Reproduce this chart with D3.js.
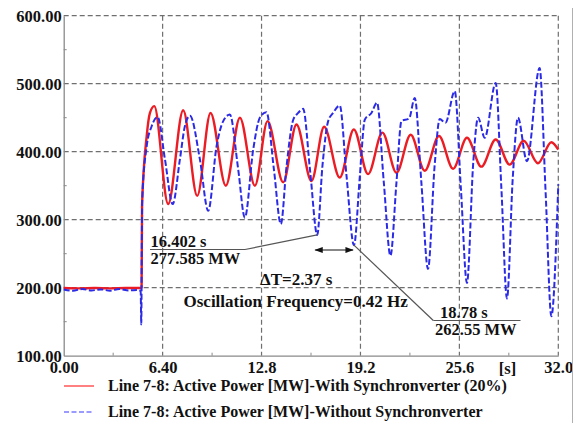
<!DOCTYPE html>
<html>
<head>
<meta charset="utf-8">
<script src="https://cdn.jsdelivr.net/npm/d3@7"></script>
<style>
  html, body { margin: 0; padding: 0; background: #fff; }
  svg { display: block; }
  text { font-family: "Liberation Serif", "Times New Roman", serif; font-weight: bold; fill: #111; }
</style>
</head>
<body>
<svg id="chart" width="577" height="423"></svg>
<script>
// Time axis (s) and active power (MW) of line 7-8
const xTicks = [0, 6.4, 12.8, 19.2, 25.6, 32];
const xTickLabels = ["0.00", "6.40", "12.8", "19.2", "25.6", "32.0"];
const yTicks = [100, 200, 300, 400, 500, 600];
const yTickLabels = ["100.00", "200.00", "300.00", "400.00", "500.00", "600.00"];

// With Synchronverter (20%)
const withTime = [0, 1, 2, 3, 4, 5.0, 5.04, 5.07, 5.37, 5.58, 5.86, 6.76, 7.73, 8.64, 9.5, 10.49,
  11.4, 12.37, 13.19, 14.2, 15.06, 16.03, 16.85, 17.86, 18.77, 19.69, 20.62, 21.53, 22.45,
  23.36, 24.28, 25.19, 26.09, 27.02, 27.95, 28.85, 29.76, 30.68, 31.55, 32];
const withPower = [199.5, 199, 199.5, 199, 199.5, 199.5, 201, 322, 423, 457, 467, 323, 461, 335, 457, 350,
  450, 350, 445, 355, 440, 357, 436.6, 362, 432.7, 367, 428, 369, 425,
  372, 423, 375, 420.5, 378, 418, 381, 416, 383, 414, 403];

// Without Synchronverter
const withoutTime = [0, 0.6, 1.2, 1.8, 2.4, 3.0, 3.6, 4.2, 4.8, 4.98, 5.02, 5.05, 5.08, 5.37, 5.69, 6.08,
  6.55, 7.05, 7.52, 7.84, 8.17, 8.81, 9.35, 9.89, 10.32, 10.75, 11.29, 11.72, 12.26, 12.69, 13.12,
  13.6, 14.05, 14.42, 14.85, 15.17, 15.49, 15.95, 16.402, 16.74, 17.11, 17.43, 17.86, 18.3, 18.78,
  19.16, 19.48, 19.91, 20.27, 20.71, 21.14, 21.53, 21.85, 22.35, 22.71, 23.14, 23.57,
  24.0, 24.33, 24.7, 25.3, 25.7, 26.09, 26.5, 26.81, 27.24, 27.95, 28.32, 28.68,
  29.05, 29.39, 29.97, 30.79, 31.18, 31.55, 32];
const withoutPower = [197.5, 195.5, 198, 196, 197.5, 195.5, 198, 196, 196.5, 195, 146, 250, 330, 408, 437.5, 451,
  389, 323, 389, 437.5, 453, 389, 313, 408, 445, 454.6, 374, 303, 403, 450, 458,
  374, 293.6, 379, 447, 457, 463, 370, 277.585, 379, 445, 457, 468, 364, 262.55,
  364, 447, 457, 472, 355, 247, 355, 445, 449, 479, 355, 227.7,
  380, 448, 442.5, 489, 345, 207, 385, 450, 420.5, 501, 345, 184,
  360, 450, 386, 523, 340, 158, 352];

// Read-out markers and derived oscillation figures
const markerTimes = [16.402, 18.78];
const markerPowers = [277.585, 262.55];
const markerTimeLabels = ["16.402 s", "18.78 s"];
const markerPowerLabels = ["277.585 MW", "262.55 MW"];
const deltaLabel = "\u0394T=2.37 s";
const freqLabel = "Oscillation Frequency=0.42 Hz";

const seriesNames = [
  "Line 7-8: Active Power [MW]-With Synchronverter (20%)",
  "Line 7-8: Active Power [MW]-Without Synchronverter"
];

const svg = d3.select("#chart");
const plotLeft = 63.7, plotRight = 558.3, plotTop = 15.7, plotBottom = 355.7;
const x = d3.scaleLinear().domain([0, 32]).range([plotLeft, plotRight]);
const y = d3.scaleLinear().domain([100, 600]).range([plotBottom, plotTop]);

const gridColor = "#6f6f6f";
const axisColor = "#8a8a8a";

// Dashed grid, including the top and right frame
const grid = svg.append("g");
grid.selectAll("line.gx").data(xTicks.slice(1)).join("line")
  .attr("x1", d => x(d)).attr("x2", d => x(d))
  .attr("y1", plotTop).attr("y2", plotBottom)
  .attr("stroke", gridColor).attr("stroke-width", 1.2).attr("stroke-dasharray", "5,3");
grid.selectAll("line.gy").data(yTicks.slice(1)).join("line")
  .attr("x1", plotLeft).attr("x2", plotRight)
  .attr("y1", d => y(d)).attr("y2", d => y(d))
  .attr("stroke", gridColor).attr("stroke-width", 1.2).attr("stroke-dasharray", "5,3");

// Minor ticks pointing into the plot
const minorX = d3.range(3.2, 32, 6.4);
const minorY = d3.range(150, 600, 100);
grid.selectAll("line.mx").data(minorX).join("line")
  .attr("x1", d => x(d)).attr("x2", d => x(d))
  .attr("y1", plotBottom).attr("y2", plotBottom - 3)
  .attr("stroke", axisColor).attr("stroke-width", 1);
grid.selectAll("line.my").data(minorY).join("line")
  .attr("x1", plotLeft).attr("x2", plotLeft + 3)
  .attr("y1", d => y(d)).attr("y2", d => y(d))
  .attr("stroke", axisColor).attr("stroke-width", 1);

// Axes
const xAxis = d3.axisBottom(x).tickValues(xTicks)
  .tickFormat((d, i) => xTickLabels[i]).tickSize(0).tickPadding(6);
const yAxis = d3.axisLeft(y).tickValues(yTicks)
  .tickFormat((d, i) => yTickLabels[i]).tickSize(0).tickPadding(2);

const gx = svg.append("g").attr("transform", `translate(0,${plotBottom})`).call(xAxis);
const gy = svg.append("g").attr("transform", `translate(${plotLeft},0)`).call(yAxis);
[gx, gy].forEach(g => {
  g.select(".domain").attr("stroke", axisColor).attr("stroke-width", 1.3);
  g.selectAll("text").style("font-family", "'Liberation Serif', serif")
    .style("font-weight", "bold").style("font-size", "16.5px").attr("fill", "#111");
});
gx.selectAll("text").attr("dy", "0.71em");
gy.selectAll("text").attr("dy", "0.34em");

// Unit label on the time axis
svg.append("text").attr("x", 507.5).attr("y", 373.5).attr("text-anchor", "middle")
  .style("font-size", "16.5px").text("[s]");

// Curves
const line = d3.line().x(d => x(d[0])).y(d => y(d[1])).curve(d3.curveMonotoneX);
const withData = withTime.map((t, i) => [t, withPower[i]]);
const withoutData = withoutTime.map((t, i) => [t, withoutPower[i]]);

svg.append("path").datum(withData).attr("d", line)
  .attr("fill", "none").attr("stroke", "#ec1c24").attr("stroke-width", 2.4)
  .attr("stroke-linejoin", "round");
svg.append("path").datum(withoutData).attr("d", line)
  .attr("fill", "none").attr("stroke", "#2b2be6").attr("stroke-width", 2)
  .attr("stroke-dasharray", "6,2.5").attr("stroke-linejoin", "round");

// Read-out annotations
const ann = svg.append("g");
const annFont = "16.5px";
// first read-out: label to the lower left of the trough
const m1 = { tx: 150.5, ty: 246.5, ux1: 150, ux2: 245, uy: 249.5 };
ann.append("line").attr("x1", m1.ux1).attr("x2", m1.ux2).attr("y1", m1.uy).attr("y2", m1.uy)
  .attr("stroke", "#555").attr("stroke-width", 1.2);
ann.append("line").attr("x1", m1.ux2).attr("y1", m1.uy)
  .attr("x2", x(markerTimes[0])).attr("y2", y(markerPowers[0]))
  .attr("stroke", "#555").attr("stroke-width", 1.2);
ann.append("text").attr("x", m1.tx).attr("y", m1.ty).style("font-size", annFont).text(markerTimeLabels[0]);
ann.append("text").attr("x", m1.tx).attr("y", m1.ty + 17).style("font-size", annFont).text(markerPowerLabels[0]);

// second read-out: label to the lower right of the trough
const m2 = { ux1: 433.3, ux2: 520.5, uy: 320.5 };
ann.append("line").attr("x1", m2.ux1).attr("x2", m2.ux2).attr("y1", m2.uy).attr("y2", m2.uy)
  .attr("stroke", "#555").attr("stroke-width", 1.2);
ann.append("line").attr("x1", m2.ux1).attr("y1", m2.uy)
  .attr("x2", x(markerTimes[1])).attr("y2", y(markerPowers[1]))
  .attr("stroke", "#555").attr("stroke-width", 1.2);
ann.append("text").attr("x", 440).attr("y", 318)
  .style("font-size", annFont).text(markerTimeLabels[1]);
ann.append("text").attr("x", 435).attr("y", 334.5)
  .style("font-size", annFont).text(markerPowerLabels[1]);

// period arrow between the two troughs
const defs = svg.append("defs");
defs.append("marker").attr("id", "ah").attr("viewBox", "0 0 10 10")
  .attr("refX", 9).attr("refY", 5).attr("markerWidth", 7).attr("markerHeight", 7)
  .attr("orient", "auto-start-reverse")
  .append("path").attr("d", "M0,1.5 L10,5 L0,8.5 Z").attr("fill", "#111");
ann.append("line").attr("x1", x(markerTimes[0]) - 2).attr("x2", x(markerTimes[1]) - 1)
  .attr("y1", 250).attr("y2", 250)
  .attr("stroke", "#111").attr("stroke-width", 1.2)
  .attr("marker-start", "url(#ah)").attr("marker-end", "url(#ah)");

ann.append("text").attr("x", 260).attr("y", 285).style("font-size", "17px").text(deltaLabel);
ann.append("text").attr("x", 183.5).attr("y", 306.5).style("font-size", "17px").text(freqLabel);

// Legend
const legend = svg.append("g");
legend.append("line").attr("x1", 64).attr("x2", 94).attr("y1", 386).attr("y2", 386)
  .attr("stroke", "#ff6060").attr("stroke-width", 1.6);
legend.append("line").attr("x1", 64).attr("x2", 94).attr("y1", 412).attr("y2", 412)
  .attr("stroke", "#7a7aff").attr("stroke-width", 1.6).attr("stroke-dasharray", "5,2.5");
legend.append("text").attr("x", 108).attr("y", 390.5).style("font-size", "16px").text(seriesNames[0]);
legend.append("text").attr("x", 108).attr("y", 416.5).style("font-size", "16px").text(seriesNames[1]);

// Right edge of the frame
svg.append("rect").attr("x", 572).attr("y", 0).attr("width", 5).attr("height", 423).attr("fill", "#fff");
svg.append("line").attr("x1", 572.5).attr("x2", 572.5).attr("y1", 8).attr("y2", 423)
  .attr("stroke", "#b0b0b0").attr("stroke-width", 1);
</script>
</body>
</html>
